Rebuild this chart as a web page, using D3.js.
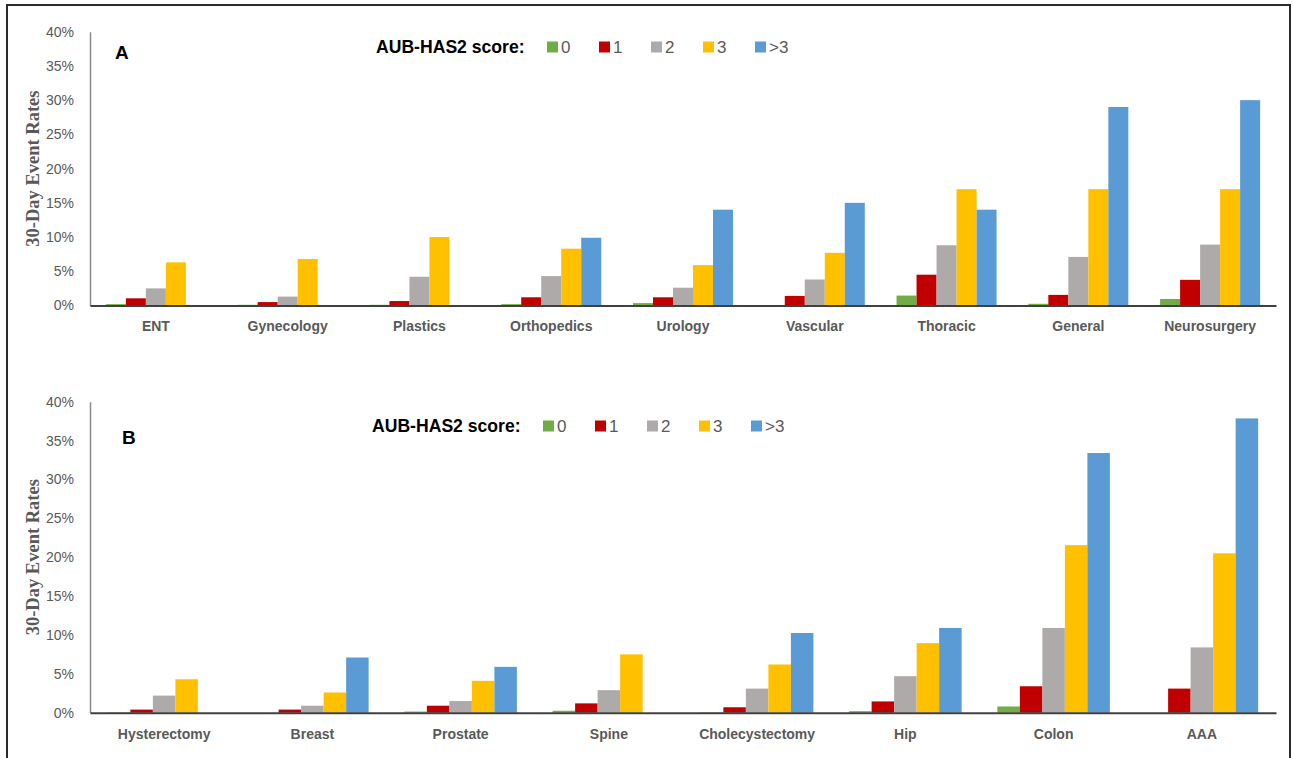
<!DOCTYPE html>
<html>
<head>
<meta charset="utf-8">
<script src="https://cdn.jsdelivr.net/npm/d3@7"></script>
<style>
  html, body { margin: 0; padding: 0; background: #fff; }
  svg { display: block; }
</style>
</head>
<body>
<svg id="chart" width="1293" height="758"></svg>
<script>
// Score groups and their colours
const scoreLabels = ["0", "1", "2", "3", ">3"];
const scoreColors = ["#70AD47", "#C00000", "#AEAAAA", "#FFC000", "#5B9BD5"];

// Panel A: surgical specialties (30-day event rate, %)
const specialties = ["ENT", "Gynecology", "Plastics", "Orthopedics", "Urology", "Vascular", "Thoracic", "General", "Neurosurgery"];
const specScore0 = [0.2, 0.1, 0.1, 0.2, 0.35, 0, 1.45, 0.25, 0.95];
const specScore1 = [1.05, 0.5, 0.65, 1.2, 1.2, 1.4, 4.5, 1.55, 3.75];
const specScore2 = [2.5, 1.3, 4.2, 4.3, 2.6, 3.8, 8.8, 7.1, 8.9];
const specScore3 = [6.3, 6.8, 10.0, 8.3, 5.9, 7.7, 17.0, 17.0, 17.0];
const specScoreGt3 = [0, 0, 0, 9.9, 14.0, 15.0, 14.0, 29.0, 30.0];

// Panel B: individual procedures (30-day event rate, %)
const procedures = ["Hysterectomy", "Breast", "Prostate", "Spine", "Cholecystectomy", "Hip", "Colon", "AAA"];
const procScore0 = [0.05, 0, 0.15, 0.25, 0.05, 0.2, 0.8, 0];
const procScore1 = [0.4, 0.4, 0.9, 1.2, 0.7, 1.45, 3.4, 3.1];
const procScore2 = [2.2, 0.9, 1.5, 2.9, 3.1, 4.7, 10.9, 8.4];
const procScore3 = [4.3, 2.6, 4.1, 7.5, 6.2, 8.95, 21.55, 20.5];
const procScoreGt3 = [0, 7.1, 5.9, 0, 10.25, 10.9, 33.4, 37.85];

const yTicks = [0, 5, 10, 15, 20, 25, 30, 35, 40];

const svg = d3.select("#chart");
const sans = "'Liberation Sans', Arial, sans-serif";
const textGray = "#595959";

// Outer frame (top, left, right)
svg.append("path")
  .attr("d", "M7,758 L7,5 L1290,5 L1290,758")
  .attr("fill", "none")
  .attr("stroke", "#2b2b2b")
  .attr("stroke-width", 2);

function drawPanel(opts) {
  const { categories, series, top, bottom, letter, letterPos, legendX, legendY } = opts;
  const left = 90, right = 1276;

  const x = d3.scaleBand().domain(categories).range([left, right])
    .paddingInner(0.241).paddingOuter(0.1205);
  const xs = d3.scaleBand().domain(d3.range(scoreLabels.length)).range([0, x.bandwidth()]);
  const y = d3.scaleLinear().domain([0, 40]).range([bottom, top]);

  const g = svg.append("g");

  // Bars
  const groups = g.selectAll("g.cat").data(categories).join("g")
    .attr("class", "cat")
    .attr("transform", d => `translate(${x(d)},0)`);
  groups.selectAll("rect")
    .data((c, ci) => series.map((s, si) => ({ si, v: s[ci] })))
    .join("rect")
    .attr("x", d => xs(d.si))
    .attr("width", xs.bandwidth())
    .attr("y", d => y(d.v))
    .attr("height", d => bottom - y(d.v))
    .attr("fill", d => scoreColors[d.si]);

  // Y axis (line + percent labels, no ticks)
  const yAxis = g.append("g")
    .attr("transform", `translate(${left},0)`)
    .call(d3.axisLeft(y).tickValues(yTicks).tickFormat(d => d + "%").tickSize(0).tickPadding(16));
  yAxis.select(".domain").attr("stroke", "#8a8a8a").attr("stroke-width", 1.5);
  yAxis.selectAll("text")
    .attr("font-family", sans).attr("font-size", 14).attr("fill", textGray);

  // X axis (baseline + category labels)
  const xAxis = g.append("g")
    .attr("transform", `translate(0,${bottom})`)
    .call(d3.axisBottom(x).tickSize(0).tickPadding(16));
  xAxis.select(".domain").attr("stroke", "#404040").attr("stroke-width", 2);
  xAxis.selectAll("text")
    .attr("font-family", sans).attr("font-size", 14).attr("font-weight", "bold").attr("fill", textGray);

  // Y title
  g.append("text")
    .attr("transform", `translate(33,${(top + bottom) / 2}) rotate(-90)`)
    .attr("text-anchor", "middle")
    .attr("dominant-baseline", "central")
    .attr("font-family", "'Liberation Serif', 'Times New Roman', serif")
    .attr("font-weight", "bold")
    .attr("font-size", 18.5)
    .attr("fill", textGray)
    .text("30-Day Event Rates");

  // Panel letter
  g.append("text")
    .attr("x", letterPos[0]).attr("y", letterPos[1])
    .attr("dominant-baseline", "central")
    .attr("font-family", sans).attr("font-weight", "bold").attr("font-size", 19)
    .attr("fill", "#000")
    .text(letter);

  // Legend
  const lg = g.append("g");
  lg.append("text")
    .attr("x", legendX).attr("y", legendY)
    .attr("dominant-baseline", "central")
    .attr("font-family", sans).attr("font-weight", "bold").attr("font-size", 17.6)
    .attr("fill", "#000")
    .text("AUB-HAS2 score:");
  const items = lg.selectAll("g.item").data(scoreLabels).join("g")
    .attr("class", "item")
    .attr("transform", (d, i) => `translate(${legendX + 171 + i * 52},${legendY})`);
  items.append("rect")
    .attr("x", 0).attr("y", -5.5).attr("width", 11).attr("height", 11)
    .attr("fill", (d, i) => scoreColors[i]);
  items.append("text")
    .attr("x", 14).attr("y", 0.5)
    .attr("dominant-baseline", "central")
    .attr("font-family", sans).attr("font-size", 17)
    .attr("fill", textGray)
    .text(d => d);
}

drawPanel({
  categories: specialties,
  series: [specScore0, specScore1, specScore2, specScore3, specScoreGt3],
  top: 31.7, bottom: 305.5,
  letter: "A", letterPos: [115, 52],
  legendX: 376, legendY: 47
});

drawPanel({
  categories: procedures,
  series: [procScore0, procScore1, procScore2, procScore3, procScoreGt3],
  top: 401.7, bottom: 712.7,
  letter: "B", letterPos: [122, 437],
  legendX: 372, legendY: 426
});
</script>
</body>
</html>
